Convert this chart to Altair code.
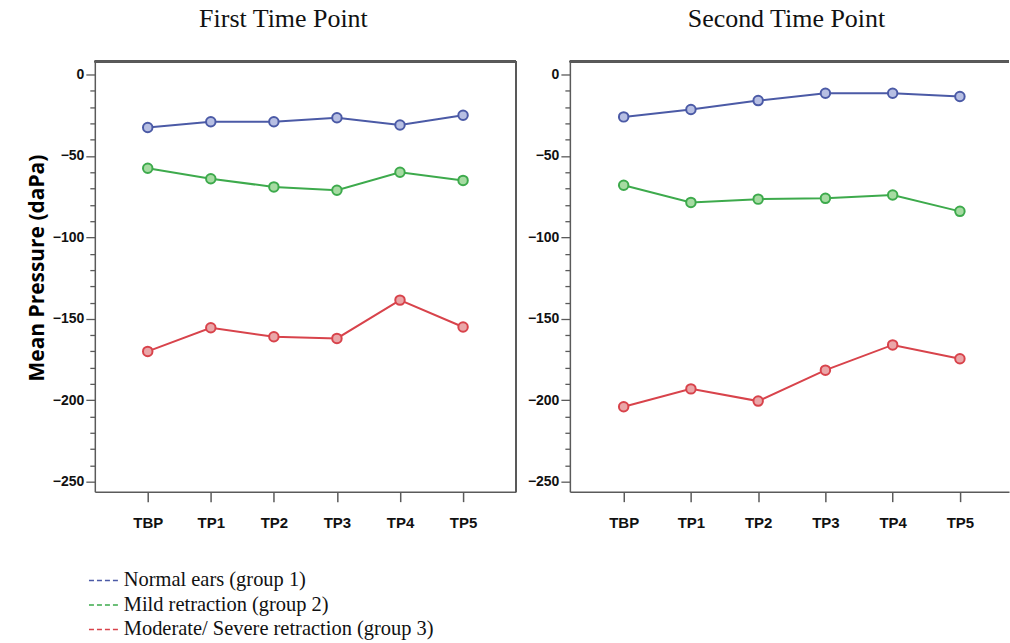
import altair as alt
import pandas as pd

# Time points along the x axis
categories = ["TBP", "TP1", "TP2", "TP3", "TP4", "TP5"]

# Group labels and their colours
groups = [
    "Normal ears (group 1)",
    "Mild retraction (group 2)",
    "Moderate/  Severe retraction (group 3)",
]
line_colors = ["#4b5aa6", "#3daa4c", "#d8434b"]
fill_colors = ["#b7bfe3", "#a6dba2", "#eaa6a8"]

# Mean pressure (daPa), first time point
first_normal = [-32.5, -29, -29, -26.5, -31, -25]
first_mild = [-57.5, -64, -69, -71, -60, -65]
first_severe = [-170, -155.5, -161, -162, -138.5, -155]

# Mean pressure (daPa), second time point
second_normal = [-26, -21.5, -16, -11.5, -11.5, -13.5]
second_mild = [-68, -78.5, -76.5, -76, -74, -84]
second_severe = [-204, -193, -200.5, -181.5, -166, -174.5]

y_ticks = list(range(-250, 1, 10))


def make_frame(series):
    rows = []
    for grp, values in zip(groups, series):
        for i, (cat, v) in enumerate(zip(categories, values)):
            rows.append({"group": grp, "tp": cat, "idx": i, "pressure": v})
    return pd.DataFrame(rows)


label_font = "Liberation Sans"
frame_color = "#5a5a5a"
plot_h = 431

color_scale = alt.Scale(domain=groups, range=line_colors)
fill_scale = alt.Scale(domain=groups, range=fill_colors)
y_scale = alt.Scale(domain=[-256.1, 8], nice=False, zero=False)

label_expr = "[" + ",".join(f"'{c}'" for c in categories) + "][datum.value]"


def panel(df, title, width, x_domain, show_title_y, right_border, title_dx):
    x = alt.X(
        "idx:Q",
        scale=alt.Scale(domain=x_domain, nice=False, zero=False),
        axis=alt.Axis(
            values=list(range(len(categories))),
            tickCount=len(categories),
            labelExpr=label_expr,
            title=None,
            grid=False,
            tickSize=10,
            tickColor=frame_color,
            tickWidth=1.5,
            domainColor=frame_color,
            domainWidth=1.5,
            labelFont=label_font,
            labelFontSize=15,
            labelFontWeight="bold",
            labelColor="#111",
            labelPadding=14,
        ),
    )
    y = alt.Y(
        "pressure:Q",
        scale=y_scale,
        axis=alt.Axis(
            values=y_ticks,
            tickCount=len(y_ticks) + 4,
            labelExpr="datum.value % 50 === 0 ? datum.label : ''",
            labelOverlap=False,
            format="d",
            title="Mean Pressure (daPa)" if show_title_y else None,
            titleFont="Open Sans",
            titleFontSize=21,
            titleFontWeight="bold",
            titleColor="#000",
            titlePadding=5,
            titleY=plot_h / 2 - 9,
            grid=False,
            tickSize={"condition": {"test": "datum.value % 50 === 0", "value": 9}, "value": 5},
            tickColor=frame_color,
            tickWidth=1.3,
            domainColor=frame_color,
            domainWidth=1.5,
            labelFont=label_font,
            labelFontSize=14,
            labelFontWeight="bold",
            labelColor="#111",
            labelPadding=2,
        ),
    )
    lines = alt.Chart(df).mark_line(strokeWidth=2).encode(
        x=x,
        y=y,
        color=alt.Color(
            "group:N",
            scale=color_scale,
            legend=alt.Legend(
                title=None,
                orient="none",
                legendX=-3,
                legendY=508,
                # a short horizontal stroke, wider than the symbol box
                symbolType="M-1.35,0H1.35",
                symbolDash=[5, 3],
                symbolStrokeWidth=1.5,
                symbolSize=484,
                labelFont="Liberation Serif",
                labelFontSize=20.5,
                labelColor="#111",
                labelOffset=8,
                rowPadding=1.5,
                labelLimit=500,
            ),
        ),
        detail="group:N",
    )
    points = alt.Chart(df).mark_point(filled=False, size=90, strokeWidth=2, opacity=1).encode(
        x="idx:Q",
        y="pressure:Q",
        stroke=alt.Stroke("group:N", scale=color_scale, legend=None),
        fill=alt.Fill("group:N", scale=fill_scale, legend=None),
    )
    top = alt.Chart(df).mark_rule(color=frame_color, strokeWidth=1.5).encode(
        x=alt.value(0), x2=alt.value(width), y=alt.value(0)
    )
    layers = [top]
    if right_border:
        layers.append(
            alt.Chart(df).mark_rule(color=frame_color, strokeWidth=1.5).encode(
                x=alt.value(width), y=alt.value(0), y2=alt.value(plot_h)
            )
        )
    return alt.layer(lines, points, *layers).properties(
        width=width,
        height=plot_h,
        title=alt.TitleParams(
            title,
            font="Liberation Serif",
            fontSize=26,
            fontWeight="normal",
            color="#111",
            anchor="middle",
            offset=29,
            dx=title_dx,
        ),
    )


left = panel(
    make_frame([first_normal, first_mild, first_severe]),
    "First Time Point", 422, [-0.839, 5.839], True, True, -22,
)
right = panel(
    make_frame([second_normal, second_mild, second_severe]),
    "Second Time Point", 440, [-0.80, 5.73], False, False, -3,
)

chart = (
    alt.hconcat(left, right, spacing=10)
    .properties(padding={"left": 26, "top": 5, "right": 0, "bottom": 0}, background="white")
    .configure_view(stroke=None)
)

chart.save("out.html", embed_options={"renderer": "svg", "actions": False})
